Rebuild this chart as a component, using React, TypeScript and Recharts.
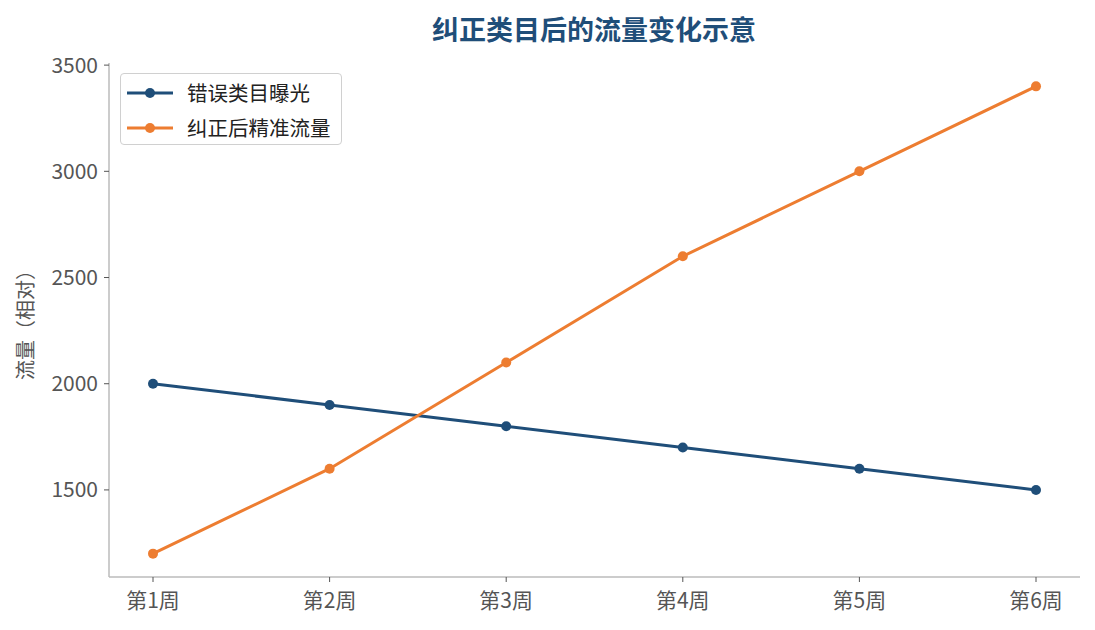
import React from "react";
import { Label, Line, LineChart, XAxis, YAxis } from "recharts";

const weeks = ["第1周", "第2周", "第3周", "第4周", "第5周", "第6周"];
const wrongCategory = [2000, 1900, 1800, 1700, 1600, 1500];
const correctedTraffic = [1200, 1600, 2100, 2600, 3000, 3400];
const yTicks = [1500, 2000, 2500, 3000, 3500];

const BLUE = "#1f4e79";
const ORANGE = "#ed7d31";
const FONT = "'Noto Sans CJK SC', 'Noto Sans', sans-serif";

const data = weeks.map((w, i) => ({
  week: w,
  wrong: wrongCategory[i],
  fixed: correctedTraffic[i],
}));

const legendItems = [
  { name: "错误类目曝光", color: BLUE },
  { name: "纠正后精准流量", color: ORANGE },
];

// legend drawn as a plain box on top so it doesn't eat plot space
function LegendBox() {
  return (
    <div
      style={{
        position: "absolute", left: 120, top: 73, boxSizing: "border-box",
        width: 222, height: 72, padding: "1px 0 0 6px",
        border: "1px solid #d0d0d0", borderRadius: 4, background: "#fff",
        fontFamily: FONT, fontSize: 20.5, color: "#222",
      }}
    >
      {legendItems.map((it) => (
        <div key={it.name} style={{ display: "flex", alignItems: "center", height: 35 }}>
          <svg width={46} height={12} style={{ marginRight: 14 }}>
            <line x1={0} y1={6} x2={46} y2={6} stroke={it.color} strokeWidth={3} />
            <circle cx={23} cy={6} r={5} fill={it.color} />
          </svg>
          <span style={{ lineHeight: 1 }}>{it.name}</span>
        </div>
      ))}
    </div>
  );
}

export default function App() {
  return (
    <div style={{ position: "fixed", left: 0, top: 0, width: 1095, height: 630, background: "#fff" }}>
      <LineChart
        width={1095} height={630} data={data}
        margin={{ top: 63, right: 15, bottom: 0, left: 0 }}
        style={{ fontFamily: FONT }}
      >
        <text
          x={594} y={40} textAnchor="middle"
          style={{ fontFamily: FONT, fontSize: 27, fontWeight: 700, fill: BLUE }}
        >
          纠正类目后的流量变化示意
        </text>
        <XAxis
          dataKey="week" type="category" height={53}
          padding={{ left: 44, right: 44 }}
          axisLine={{ stroke: "#bbbbbb", strokeWidth: 1.5 }}
          tickLine={{ stroke: "#555555" }} tickSize={5}
          tick={{ fill: "#555555", fontSize: 21 }} tickMargin={11}
        />
        <YAxis
          type="number" width={109} domain={[1090, 3510]} ticks={yTicks}
          allowDataOverflow
          axisLine={{ stroke: "#bbbbbb", strokeWidth: 1.5 }}
          tickLine={{ stroke: "#555555" }} tickSize={5}
          tick={{ fill: "#555555", fontSize: 21 }} tickMargin={6}
        >
          <Label
            value="流量（相对）" angle={-90} position="insideLeft"
            offset={26} style={{ fill: "#555555", fontSize: 20, textAnchor: "middle" }}
          />
        </YAxis>
        <Line
          dataKey="wrong" name="错误类目曝光" stroke={BLUE} strokeWidth={3}
          dot={{ r: 5, fill: BLUE, stroke: BLUE, strokeWidth: 0 }}
          activeDot={false} isAnimationActive={false}
        />
        <Line
          dataKey="fixed" name="纠正后精准流量" stroke={ORANGE} strokeWidth={3}
          dot={{ r: 5, fill: ORANGE, stroke: ORANGE, strokeWidth: 0 }}
          activeDot={false} isAnimationActive={false}
        />
      </LineChart>
      <LegendBox />
    </div>
  );
}
